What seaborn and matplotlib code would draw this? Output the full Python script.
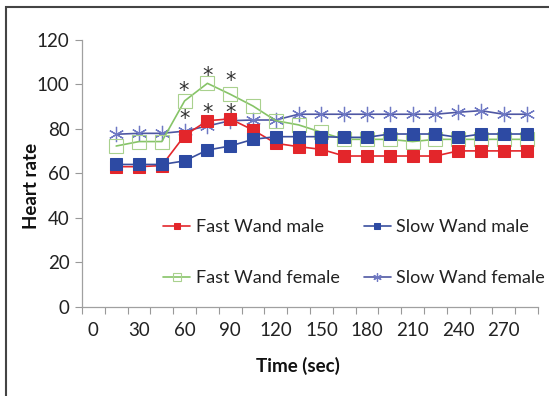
import matplotlib
matplotlib.use("Agg")
import matplotlib.pyplot as plt
import matplotlib.patches as mpatches
import seaborn as sns
import numpy as np
import pandas as pd

# ---- data ----
time_sec = [15, 30, 45, 60, 75, 90, 105, 120, 135, 150, 165, 180, 195, 210, 225, 240, 255, 270, 285]
fast_male = [63, 63, 63.5, 77, 83.7, 84.5, 79.5, 73.5, 72, 70.8, 67.8, 67.8, 67.8, 67.8, 67.8, 70.1, 70.1, 70.1, 70.1]
slow_male = [64, 64, 64, 65.6, 70.5, 72.3, 75.3, 76.5, 76.5, 76.5, 76.2, 76.2, 77.7, 77.7, 77.7, 76.2, 77.7, 77.7, 77.7]
fast_female = [72.3, 74.3, 74.3, 92.6, 100.5, 95.6, 90.3, 83.7, 81.8, 78.5, 75.3, 75.3, 75.3, 74.3, 75.3, 75.3, 75.3, 75.3, 75.3]
slow_female = [77.6, 78, 78, 79, 81.3, 83.7, 84, 84, 86.6, 86.6, 86.6, 86.6, 86.6, 86.6, 86.6, 87.5, 88.2, 86.6, 86.6]
series_names = ["Fast Wand male", "Slow Wand male", "Fast Wand female", "Slow Wand female"]
x_tick_labels = ["0", "30", "60", "90", "120", "150", "180", "210", "240", "270"]
y_ticks = [0, 20, 40, 60, 80, 100, 120]
# significance stars (time, value)
star_time = [59, 75, 90, 60, 75, 90]
star_value = [97.0, 104.0, 101.5, 84.5, 87.0, 87.0]

df = pd.DataFrame({
    "time": time_sec * 4,
    "hr": fast_male + slow_male + fast_female + slow_female,
    "group": sum([[n] * len(time_sec) for n in series_names], []),
})

sns.set_theme(style="white")
plt.rcParams["font.family"] = ["Lato", "DejaVu Sans"]
FS = 13.5

fig = plt.figure(figsize=(5.49, 3.96), dpi=100)
ax = fig.add_axes([82 / 549, 1 - 306.7 / 396, 456 / 549, 266.7 / 396])

styles = {
    "Fast Wand male": dict(color="#e3262b", marker="s", markersize=9, markerfacecolor="#e3262b",
                           markeredgecolor="#e3262b", linewidth=1.2),
    "Slow Wand male": dict(color="#3a4f9e", marker="s", markersize=9, markerfacecolor="#2d4aa3",
                           markeredgecolor="#2d4aa3", linewidth=1.2),
    "Fast Wand female": dict(color="#86c467", marker="s", markersize=9.5, markerfacecolor="none",
                             markeredgecolor="#a9d18e", markeredgewidth=0.8, linewidth=1.2),
    "Slow Wand female": dict(color="#4f57a3", marker=(6, 2, 0), markersize=11, markerfacecolor="none",
                             markeredgecolor="#6f79c4", markeredgewidth=0.9, linewidth=1.2),
}
draw_order = ["Slow Wand female", "Fast Wand female", "Fast Wand male", "Slow Wand male"]
for name in draw_order:
    sub = df[df["group"] == name]
    sns.lineplot(data=sub, x="time", y="hr", ax=ax, label=name, **styles[name])

for t, v in zip(star_time, star_value):
    ax.text(t, v, "*", ha="center", va="center", fontsize=15, color="#333333",
            family="DejaVu Sans")

ax.set_xlim(-7.5, 292.5)
ax.set_ylim(0, 120)
ax.set_yticks(y_ticks)
ax.set_xticks(np.arange(0, 271, 30))
ax.set_xticklabels(x_tick_labels)
ax.set_xticks(np.arange(-7.5, 293, 15), minor=True)
ax.tick_params(axis="x", which="major", length=0, pad=11, labelsize=FS, labelcolor="#222222")
ax.tick_params(axis="x", which="minor", length=5, width=0.8, color="#999999", bottom=True)
ax.tick_params(axis="y", which="major", length=5, width=0.8, color="#999999", left=True,
               labelsize=FS, labelcolor="#222222", pad=4)

for s in ["top", "right"]:
    ax.spines[s].set_visible(False)
for s in ["left", "bottom"]:
    ax.spines[s].set_color("#a0a0a0")
    ax.spines[s].set_linewidth(0.9)

ax.set_xlabel("Time (sec)", fontsize=FS, fontweight="bold", color="#111111")
ax.set_ylabel("Heart rate", fontsize=FS, fontweight="bold", color="#111111")
ax.xaxis.set_label_coords((298 - 82) / 456, -0.19)
ax.yaxis.set_label_coords(-0.092, 0.453)

handles, labels = ax.get_legend_handles_labels()
# legend fills column-wise: col1 = Fast male, Fast female; col2 = Slow male, Slow female
col_order = ["Fast Wand male", "Fast Wand female", "Slow Wand male", "Slow Wand female"]
order = [labels.index(n) for n in col_order]
leg = ax.legend([handles[i] for i in order], [labels[i] for i in order], ncol=2,
                loc="upper left", bbox_to_anchor=(163 / 549, 1 - 219 / 396),
                bbox_transform=fig.transFigure, frameon=False, fontsize=13,
                handlelength=1.5, handletextpad=0.3, columnspacing=1.35,
                labelspacing=1.95, borderpad=0, borderaxespad=0, markerscale=0.55)
for t in leg.get_texts():
    t.set_color("#222222")

fig.patches.append(mpatches.Rectangle((6 / 549, -0.1), 2, 1 - 7 / 396 + 0.1,
                                      transform=fig.transFigure, fill=False,
                                      edgecolor="#444444", linewidth=1.5))

fig.savefig("out.png", dpi=100)
